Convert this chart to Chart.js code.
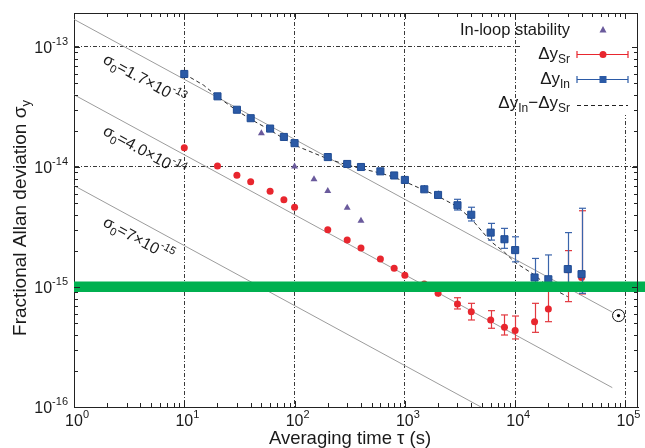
<!DOCTYPE html>
<html>
<head>
<meta charset="utf-8">
<script src="https://cdn.jsdelivr.net/npm/chart.js@4.4.1/dist/chart.umd.min.js"></script>
<style>
  html, body { margin: 0; padding: 0; background: #fff; }
  #wrap { width: 645px; height: 448px; }
</style>
</head>
<body>
<div id="wrap"><canvas id="chart" width="645" height="448"></canvas></div>
<script>
// averaging times (s) and Allan deviations
const tauIn = [10, 20, 30, 40, 60, 80, 100, 200, 300, 400, 600, 800, 1000, 1500, 2000, 3000, 4000, 6000, 8000, 10000, 15000, 20000, 30000, 40000]
const sigmaIn = [5.96e-14, 3.88e-14, 3.0e-14, 2.55e-14, 2.09e-14, 1.78e-14, 1.58e-14, 1.21e-14, 1.06e-14, 1.0e-14, 9.2e-15, 8.5e-15, 7.8e-15, 6.52e-15, 5.85e-15, 4.8e-15, 4.0e-15, 2.84e-15, 2.5e-15, 2.03e-15, 1.2e-15, 1.16e-15, 1.41e-15, 1.28e-15]
const lowIn = [5.8e-14, 3.8e-14, 2.94e-14, 2.5e-14, 2.05e-14, 1.74e-14, 1.54e-14, 1.18e-14, 1.03e-14, 9.7e-15, 8.9e-15, 8.2e-15, 7.5e-15, 6.15e-15, 5.48e-15, 4.38e-15, 3.55e-15, 2.46e-15, 2.1e-15, 1.62e-15, 9.5e-16, 9.5e-16, 9.5e-16, 8.86e-16]
const highIn = [6.12e-14, 3.96e-14, 3.06e-14, 2.6e-14, 2.13e-14, 1.82e-14, 1.62e-14, 1.24e-14, 1.09e-14, 1.03e-14, 9.5e-15, 8.8e-15, 8.1e-15, 7.08e-15, 6.35e-15, 5.38e-15, 4.62e-15, 3.39e-15, 3.08e-15, 2.62e-15, 1.73e-15, 1.85e-15, 2.84e-15, 4.53e-15]

const tauSr = [10, 20, 30, 40, 60, 80, 100, 200, 300, 400, 600, 800, 1000, 1500, 2000, 3000, 4000, 6000, 8000, 10000, 15000, 20000, 30000, 40000]
const sigmaSr = [1.45e-14, 1.02e-14, 8.55e-15, 7.55e-15, 6.27e-15, 5.34e-15, 4.61e-15, 3.0e-15, 2.46e-15, 2.11e-15, 1.71e-15, 1.43e-15, 1.25e-15, 1.06e-15, 8.86e-16, 7.22e-16, 6.23e-16, 5.31e-16, 4.61e-16, 4.35e-16, 5.14e-16, 6.56e-16, 1.39e-15, 1.2e-15]
const lowSr = [1.42e-14, 1.0e-14, 8.4e-15, 7.4e-15, 6.1e-15, 5.2e-15, 4.45e-15, 2.9e-15, 2.37e-15, 2.03e-15, 1.64e-15, 1.37e-15, 1.19e-15, 1.0e-15, 8.3e-16, 6.56e-16, 5.31e-16, 4.53e-16, 3.98e-16, 3.69e-16, 4.19e-16, 5.14e-16, 7.55e-16, 8.75e-16]
const highSr = [1.48e-14, 1.04e-14, 8.7e-15, 7.7e-15, 6.45e-15, 5.5e-15, 4.78e-15, 3.1e-15, 2.55e-15, 2.19e-15, 1.78e-15, 1.49e-15, 1.31e-15, 1.12e-15, 9.4e-16, 8.14e-16, 7.31e-16, 6.35e-16, 5.85e-16, 5.73e-16, 7.31e-16, 1.0e-15, 2.01e-15, 4.32e-15]

const tauLoop = [50, 100, 150, 200, 300, 400]
const sigmaLoop = [1.91e-14, 1.01e-14, 7.89e-15, 6.31e-15, 4.58e-15, 3.57e-15]

const tauDiff = [10, 15, 20, 30, 40, 60, 80, 100, 200, 300, 400, 600, 800, 1000, 2000, 3000, 4000, 6000, 8000, 10000, 15000, 20000, 30000]
const sigmaDiff = [5.96e-14, 4.8e-14, 3.85e-14, 2.95e-14, 2.5e-14, 2.03e-14, 1.72e-14, 1.52e-14, 1.17e-14, 1.04e-14, 9.7e-15, 8.9e-15, 8.2e-15, 7.55e-15, 5.7e-15, 4.67e-15, 3.7e-15, 2.4e-15, 1.95e-15, 1.6e-15, 1.26e-15, 1.01e-15, 8.3e-16]

// sigma_0 / sqrt(tau) reference lines (end points)
const refLabels = ['1.7×10', '4.0×10', '7×10']
const refExp = ['-13', '-14', '-15']
const refTau = [[1, 7.6e4], [1, 7.6e4], [1, 4900]]
const refSigma = [[1.7e-13, 6.17e-16], [4.0e-14, 1.45e-16], [7e-15, 1.0e-16]]

const sunTau = [8.66e4]
const sunSigma = [5.78e-16]

const xTickExp = ['0', '1', '2', '3', '4', '5']
const yTickExp = ['-16', '-15', '-14', '-13']

const FONT = '"Liberation Sans", Arial, Helvetica, sans-serif'
const BLUE = '#2b5aa6'
const RED = '#e8262e'
const PURPLE = '#6a5a9c'
const GREEN = '#00b050'

const pts = (xs, ys) => xs.map((x, i) => ({ x, y: ys[i] }))

function isDecade (v) {
  if (!v) return false
  const l = Math.log10(v)
  return Math.abs(l - Math.round(l)) < 1e-6
}

function drawRich (ctx, parts, x, y) {
  parts.forEach((p) => {
    ctx.font = p.size + 'px ' + FONT
    ctx.fillText(p.t, x, y + (p.dy || 0))
    x += ctx.measureText(p.t).width
  })
  return x
}

function richWidth (ctx, parts) {
  let w = 0
  parts.forEach((p) => {
    ctx.font = p.size + 'px ' + FONT
    w += ctx.measureText(p.t).width
  })
  return w
}

function hline (ctx, x1, y1, x2, y2) {
  ctx.beginPath()
  ctx.moveTo(x1, y1)
  ctx.lineTo(x2, y2)
  ctx.stroke()
}

const errorBars = {
  id: 'errorBars',
  beforeDatasetDraw (chart, args) {
    const ds = chart.data.datasets[args.index]
    if (!ds.errLow) return
    const { ctx, chartArea, scales: { x, y } } = chart
    ctx.save()
    ctx.beginPath()
    ctx.rect(chartArea.left, chartArea.top, chartArea.right - chartArea.left, chartArea.bottom - chartArea.top)
    ctx.clip()
    ctx.strokeStyle = ds.errColor
    ctx.lineWidth = 1.2
    ds.data.forEach((p, i) => {
      const px = Math.round(x.getPixelForValue(p.x)) + 0.5
      const yt = y.getPixelForValue(ds.errHigh[i])
      const yb = y.getPixelForValue(ds.errLow[i])
      hline(ctx, px, yt, px, yb)
      if (yb - yt > 8) {
        hline(ctx, px - 3.5, yt, px + 3.5, yt)
        hline(ctx, px - 3.5, yb, px + 3.5, yb)
      }
    })
    ctx.restore()
  }
}

const legendBox = {
  id: 'legendBox',
  beforeDatasetsDraw (chart) {
    const { ctx, chartArea } = chart
    ctx.save()
    ctx.fillStyle = '#fff'
    ctx.fillRect(522, chartArea.top + 2, chartArea.right - 523, 100)
    ctx.restore()
  },
  afterDatasetsDraw (chart) {
    const { ctx, chartArea, scales: { y } } = chart
    const yc = y.getPixelForValue(1e-15)
    ctx.save()
    ctx.fillStyle = GREEN
    ctx.fillRect(chartArea.left, yc - 5.5, chart.width - chartArea.left, 10.5)
    ctx.restore()
  }
}

const decorations = {
  id: 'decorations',
  afterDraw (chart) {
    const { ctx, chartArea, scales: { x, y } } = chart
    const { left, right, top, bottom } = chartArea
    ctx.save()
    ctx.strokeStyle = '#222'
    ctx.lineWidth = 1
    // box
    hline(ctx, left, top + 0.5, right, top + 0.5)
    hline(ctx, right - 0.5, top, right - 0.5, bottom)
    // inward ticks
    for (let e = 0; e <= 5; e++) {
      for (let m = 1; m <= 9; m++) {
        const v = m * Math.pow(10, e)
        if (v > x.max) continue
        const px = Math.round(x.getPixelForValue(v)) + 0.5
        const len = m === 1 ? 6 : 4
        hline(ctx, px, bottom, px, bottom - len)
        hline(ctx, px, top, px, top + len)
      }
    }
    for (let e = -16; e <= -13; e++) {
      for (let m = 1; m <= 9; m++) {
        const v = m * Math.pow(10, e)
        if (v > y.max) continue
        const py = Math.round(y.getPixelForValue(v)) + 0.5
        const len = m === 1 ? 6 : 4
        hline(ctx, left, py, left + len, py)
        hline(ctx, right, py, right - len, py)
      }
    }

    ctx.fillStyle = '#1a1a1a'
    ctx.textAlign = 'left'
    ctx.textBaseline = 'alphabetic'

    // tick labels
    xTickExp.forEach((ex) => {
      const px = x.getPixelForValue(Math.pow(10, Number(ex)))
      ctx.font = '16px ' + FONT
      const w = ctx.measureText('10').width
      drawRich(ctx, [{ t: '10', size: 16 }, { t: ex, size: 11, dy: -8 }], px - w / 2, 426)
    })
    yTickExp.forEach((ex) => {
      const py = y.getPixelForValue(Math.pow(10, Number(ex)))
      const parts = [{ t: '10', size: 16 }, { t: ex, size: 11, dy: -8 }]
      drawRich(ctx, parts, 68 - richWidth(ctx, parts), py + 6)
    })

    // axis titles
    ctx.font = '18.5px ' + FONT
    const xt = 'Averaging time τ (s)'
    ctx.fillText(xt, 350 - ctx.measureText(xt).width / 2, 444)
    const yParts = [{ t: 'Fractional Allan deviation σ', size: 19 }, { t: 'y', size: 13, dy: 4 }]
    ctx.save()
    ctx.translate(26, 218)
    ctx.rotate(-Math.PI / 2)
    drawRich(ctx, yParts, -richWidth(ctx, yParts) / 2, 0)
    ctx.restore()

    // labels along the sigma_0 lines
    const offsets = [28, 24, 24.5]
    refTau.forEach((tt, k) => {
      const x1 = x.getPixelForValue(tt[0])
      const y1 = y.getPixelForValue(refSigma[k][0])
      const x2 = x.getPixelForValue(tt[1])
      const y2 = y.getPixelForValue(refSigma[k][1])
      const ang = Math.atan2(y2 - y1, x2 - x1)
      const ax = 102
      const ay = y1 + (ax - x1) * Math.tan(ang) + offsets[k]
      ctx.save()
      ctx.translate(ax, ay)
      ctx.rotate(ang)
      drawRich(ctx, [
        { t: 'σ', size: 16 }, { t: '0', size: 11, dy: 4 },
        { t: '=' + refLabels[k], size: 16 }, { t: refExp[k], size: 11, dy: -8 }
      ], 0, 0)
      ctx.restore()
    })

    // legend
    const tx = 570
    ctx.font = '16.5px ' + FONT
    const l1 = 'In-loop stability'
    ctx.fillText(l1, tx - ctx.measureText(l1).width, 35)
    const sr = [{ t: 'Δy', size: 17 }, { t: 'Sr', size: 12, dy: 4 }]
    drawRich(ctx, sr, tx - richWidth(ctx, sr), 59)
    const inn = [{ t: 'Δy', size: 17 }, { t: 'In', size: 12, dy: 4 }]
    drawRich(ctx, inn, tx - richWidth(ctx, inn), 84)
    const dif = [{ t: 'Δy', size: 17 }, { t: 'In', size: 12, dy: 4 }, { t: '−Δy', size: 17 }, { t: 'Sr', size: 12, dy: 4 }]
    drawRich(ctx, dif, tx - richWidth(ctx, dif), 108)

    // legend symbols
    ctx.fillStyle = PURPLE
    ctx.beginPath()
    ctx.moveTo(603, 26)
    ctx.lineTo(606.5, 32.5)
    ctx.lineTo(599.5, 32.5)
    ctx.closePath()
    ctx.fill()

    const sym = (yy, color, square) => {
      ctx.strokeStyle = color
      ctx.lineWidth = 1.2
      hline(ctx, 577, yy, 628, yy)
      hline(ctx, 577, yy - 3.5, 577, yy + 3.5)
      hline(ctx, 628, yy - 3.5, 628, yy + 3.5)
      ctx.fillStyle = color
      ctx.beginPath()
      if (square) ctx.rect(599.5, yy - 3.5, 7, 7)
      else ctx.arc(603, yy, 3.5, 0, Math.PI * 2)
      ctx.fill()
    }
    sym(54.5, RED, false)
    sym(79.5, BLUE, true)

    ctx.strokeStyle = '#222'
    ctx.lineWidth = 1
    ctx.setLineDash([4, 3])
    hline(ctx, 577, 105.5, 628, 105.5)
    ctx.setLineDash([])
    ctx.restore()
  }
}

const refSets = refTau.map((tt, k) => ({
  data: pts(tt, refSigma[k]),
  showLine: true,
  borderColor: '#9c9c9c',
  borderWidth: 1,
  pointRadius: 0
}))

const datasets = [
  {
    data: pts(tauIn, sigmaIn),
    pointStyle: 'rect',
    pointRadius: 5,
    backgroundColor: BLUE,
    borderColor: '#1f4b93',
    borderWidth: 1,
    errLow: lowIn,
    errHigh: highIn,
    errColor: '#3a64ab'
  },
  {
    data: pts(tauSr, sigmaSr),
    pointStyle: 'circle',
    pointRadius: 3.5,
    backgroundColor: RED,
    borderColor: RED,
    borderWidth: 0,
    errLow: lowSr,
    errHigh: highSr,
    errColor: '#e2383f'
  },
  {
    data: pts(tauLoop, sigmaLoop),
    pointStyle: 'triangle',
    pointRadius: 4,
    backgroundColor: PURPLE,
    borderColor: PURPLE,
    borderWidth: 0
  },
  {
    data: pts(tauDiff, sigmaDiff),
    showLine: true,
    borderColor: '#2a2a2a',
    borderWidth: 1,
    borderDash: [4, 3],
    pointRadius: 0
  },
  ...refSets,
  {
    data: pts(sunTau, sunSigma),
    pointStyle: 'circle',
    pointRadius: 1.6,
    backgroundColor: '#000',
    borderWidth: 0
  },
  {
    data: pts(sunTau, sunSigma),
    pointStyle: 'circle',
    pointRadius: 6,
    backgroundColor: '#fff',
    borderColor: '#111',
    borderWidth: 1
  }
]

new Chart(document.getElementById('chart').getContext('2d'), {
  type: 'scatter',
  data: { datasets },
  options: {
    responsive: false,
    animation: false,
    events: [],
    layout: { padding: { left: 74, right: 1, top: 13, bottom: 41 } },
    plugins: { legend: { display: false }, tooltip: { enabled: false } },
    scales: {
      x: {
        type: 'logarithmic',
        min: 1,
        max: 1.3e5,
        ticks: { display: false },
        grid: {
          drawTicks: false,
          lineWidth: 1,
          color: (c) => isDecade(c.tick && c.tick.value) ? '#3a3a3a' : 'rgba(0,0,0,0)'
        },
        border: { display: true, color: '#222', width: 1, dash: [4, 2, 1, 2] }
      },
      y: {
        type: 'logarithmic',
        min: 1e-16,
        max: 1.92e-13,
        ticks: { display: false },
        grid: {
          drawTicks: false,
          lineWidth: 1,
          color: (c) => isDecade(c.tick && c.tick.value) ? '#3a3a3a' : 'rgba(0,0,0,0)'
        },
        border: { display: true, color: '#222', width: 1, dash: [4, 2, 1, 2] }
      }
    }
  },
  plugins: [errorBars, legendBox, decorations]
})
</script>
</body>
</html>
